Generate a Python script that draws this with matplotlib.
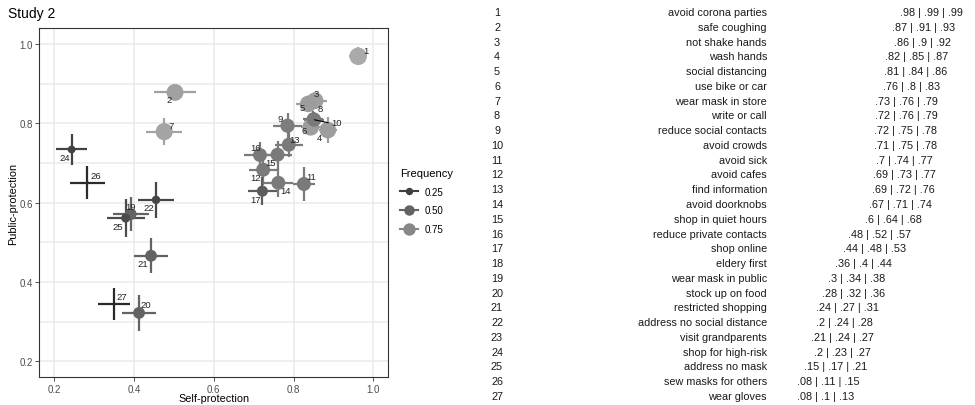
import matplotlib
matplotlib.use('Agg')
import matplotlib.pyplot as plt
from matplotlib.lines import Line2D

plt.rcParams['font.family'] = ['Liberation Sans', 'DejaVu Sans']

# table on the right: behaviour and frequency (lower | mean | upper)
behaviours = [
    'avoid corona parties', 'safe coughing', 'not shake hands', 'wash hands',
    'social distancing', 'use bike or car', 'wear mask in store', 'write or call',
    'reduce social contacts', 'avoid crowds', 'avoid sick', 'avoid cafes',
    'find information', 'avoid doorknobs', 'shop in quiet hours',
    'reduce private contacts', 'shop online', 'eldery first', 'wear mask in public',
    'stock up on food', 'restricted shopping', 'address no social distance',
    'visit grandparents', 'shop for high-risk', 'address no mask',
    'sew masks for others', 'wear gloves',
]
freq_low = [.98, .87, .86, .82, .81, .76, .73, .72, .72, .71, .7, .69, .69, .67,
            .6, .48, .44, .36, .3, .28, .24, .2, .21, .2, .15, .08, .08]
freq_mid = [.99, .91, .9, .85, .84, .8, .76, .76, .75, .75, .74, .73, .72, .71,
            .64, .52, .48, .4, .34, .32, .27, .24, .24, .23, .17, .11, .1]
freq_high = [.99, .93, .92, .87, .86, .83, .79, .79, .78, .78, .77, .77, .76, .74,
             .68, .57, .53, .44, .38, .36, .31, .28, .27, .27, .21, .15, .13]

# scatter: behaviours shown in the plot
ids = [1, 2, 3, 4, 5, 6, 7, 8, 9, 10, 11, 12, 13, 14, 15, 16, 17,
       19, 20, 21, 22, 24, 25, 26, 27]
self_prot = [0.962, 0.503, 0.854, 0.886, 0.837, 0.843, 0.476, 0.850, 0.785, 0.852,
             0.826, 0.724, 0.788, 0.762, 0.760, 0.716, 0.722,
             0.392, 0.413, 0.443, 0.4555, 0.244, 0.3795, 0.2835, 0.350]
public_prot = [0.969, 0.878, 0.857, 0.783, 0.849, 0.790, 0.779, 0.811, 0.794, 0.809,
               0.647, 0.683, 0.746, 0.650, 0.721, 0.720, 0.629,
               0.571, 0.322, 0.466, 0.607, 0.734, 0.561, 0.650, 0.344]
self_err = [.022, .053, .030, .023, .030, .025, .045, .025, .036, .025,
            .027, .036, .035, .037, .036, .040, .036,
            .045, .043, .042, .046, .038, .048, .044, .040]
public_err = [.023, .020, .020, .032, .015, .020, .034, .020, .032, .020,
              .042, .038, .032, .037, .035, .034, .036,
              .042, .045, .044, .045, .038, .047, .042, .041]
frequency = [.99, .93, .92, .90, .90, .90, .95, .62, .68, .66,
             .66, .66, .66, .66, .66, .66, .45,
             .50, .50, .50, .30, .27, .33, .12, .10]

legend_levels = [0.25, 0.50, 0.75]

# label offsets in pixels (dx, dy)
label_offsets = {1: (8, 6), 2: (-6, -7), 3: (1, 7), 4: (-8, -7), 5: (-6, -4),
                 6: (-7, -3), 7: (7, 6), 8: (7, 10), 9: (-7, 7), 10: (22, -3),
                 11: (7, 8), 12: (-8, -8), 13: (6, 5), 14: (7, -8), 15: (-7, -8),
                 16: (-4, 8), 17: (-7, -8), 19: (0, 8), 20: (7, 8), 21: (-8, -8),
                 22: (-7, -8), 24: (-7, -8), 25: (-8, -8), 26: (8, 7), 27: (8, 8)}


def grey(f):
    g = (63 + (f - 0.25) * 144) / 255
    g = min(max(g, 0), 1)
    return (g, g, g)


def point_area(f):
    d_px = 18.5 * max(f - 0.09, 0) ** 0.5
    return (d_px * 0.72) ** 2


fig = plt.figure(figsize=(9.75, 4.06), dpi=100)
ax = fig.add_axes([39.3 / 975, 27.7 / 406, 349 / 975, 349 / 406])

# grid
for v in [0.2, 0.4, 0.6, 0.8, 1.0]:
    ax.axvline(v, color='#ebebeb', lw=1.1, zorder=0)
for v in [0.2, 0.3, 0.4, 0.5, 0.6, 0.7, 0.8, 0.9, 1.0]:
    ax.axhline(v, color='#ebebeb', lw=1.1, zorder=0)

# error bars
for x, y, xe, ye, f in zip(self_prot, public_prot, self_err, public_err, frequency):
    c = grey(f)
    ax.plot([x - xe, x + xe], [y, y], color=c, lw=1.6, zorder=2, solid_capstyle='butt')
    ax.plot([x, x], [y - ye, y + ye], color=c, lw=1.6, zorder=2, solid_capstyle='butt')

# points
ax.scatter(self_prot, public_prot, s=[point_area(f) for f in frequency],
           c=[grey(f) for f in frequency], linewidths=0, zorder=3)

# labels
for i, x, y in zip(ids, self_prot, public_prot):
    dx, dy = label_offsets[i]
    ax.annotate(str(i), (x, y), xytext=(dx, dy), textcoords='offset pixels',
                ha='center', va='center', fontsize=6.8, color='#222222', zorder=4)
    if i == 10:
        ax.annotate('', (x, y), xytext=(dx - 8, dy), textcoords='offset pixels',
                    arrowprops=dict(arrowstyle='-', color='black', lw=0.8,
                                    shrinkA=0, shrinkB=0), zorder=4)

ax.set_xlim(0.163, 1.0375)
ax.set_ylim(0.1596, 1.0396)
ax.set_xticks([0.2, 0.4, 0.6, 0.8, 1.0])
ax.set_yticks([0.2, 0.4, 0.6, 0.8, 1.0])
ax.set_xticklabels(['0.2', '0.4', '0.6', '0.8', '1.0'])
ax.set_yticklabels(['0.2', '0.4', '0.6', '0.8', '1.0'])
ax.tick_params(length=2.75, width=0.6, color='#333333', labelcolor='#4d4d4d',
               labelsize=7, pad=2)
for sp in ax.spines.values():
    sp.set_color('#333333')
    sp.set_linewidth(0.8)

ax.set_xlabel('Self-protection', fontsize=7.8)
ax.set_ylabel('Public-protection', fontsize=7.8)
ax.xaxis.set_label_coords(0.5, -0.0593)
ax.xaxis.label.set_va('center')
ax.yaxis.set_label_coords(-0.0745, 0.5)
ax.yaxis.label.set_va('center')

fig.text(8 / 975, 1 - 14 / 406, 'Study 2', fontsize=10, ha='left', va='center')

# legend
handles = [Line2D([0], [0], color=grey(f), marker='o', markersize=ms, lw=1.5)
           for f, ms in zip(legend_levels, [4.3, 6.5, 7.9])]
fig.legend(handles, ['0.25', '0.50', '0.75'], title='Frequency',
           loc='upper left', bbox_to_anchor=(400 / 975, 1 - 169 / 406),
           frameon=False, fontsize=7, title_fontsize=8, handlelength=1.9,
           handletextpad=0.6, labelspacing=0.9, borderaxespad=0, borderpad=0,
           alignment='left')

# table
tx = fig.add_axes([470 / 975, 0.004, 505 / 975, 0.982])
tx.set_xlim(-2.766, 1.346)
tx.set_ylim(27.5, 0.5)
tx.axis('off')
trans = tx.get_yaxis_transform()


def fmt(v):
    return f'{v:g}'.lstrip('0')


for r, (name, lo, mid, hi) in enumerate(zip(behaviours, freq_low, freq_mid, freq_high), start=1):
    tx.text(0.0535, r, str(r), transform=trans, ha='center', va='center',
            fontsize=7.8, color='#1a1a1a')
    tx.text(0.588, r, name, transform=trans, ha='right', va='center',
            fontsize=7.8, color='#1a1a1a')
    tx.text(hi, r, f'{fmt(lo)} | {fmt(mid)} | {fmt(hi)}', ha='center', va='center',
            fontsize=7.8, color='#1a1a1a')

fig.savefig('out.png', dpi=100)
